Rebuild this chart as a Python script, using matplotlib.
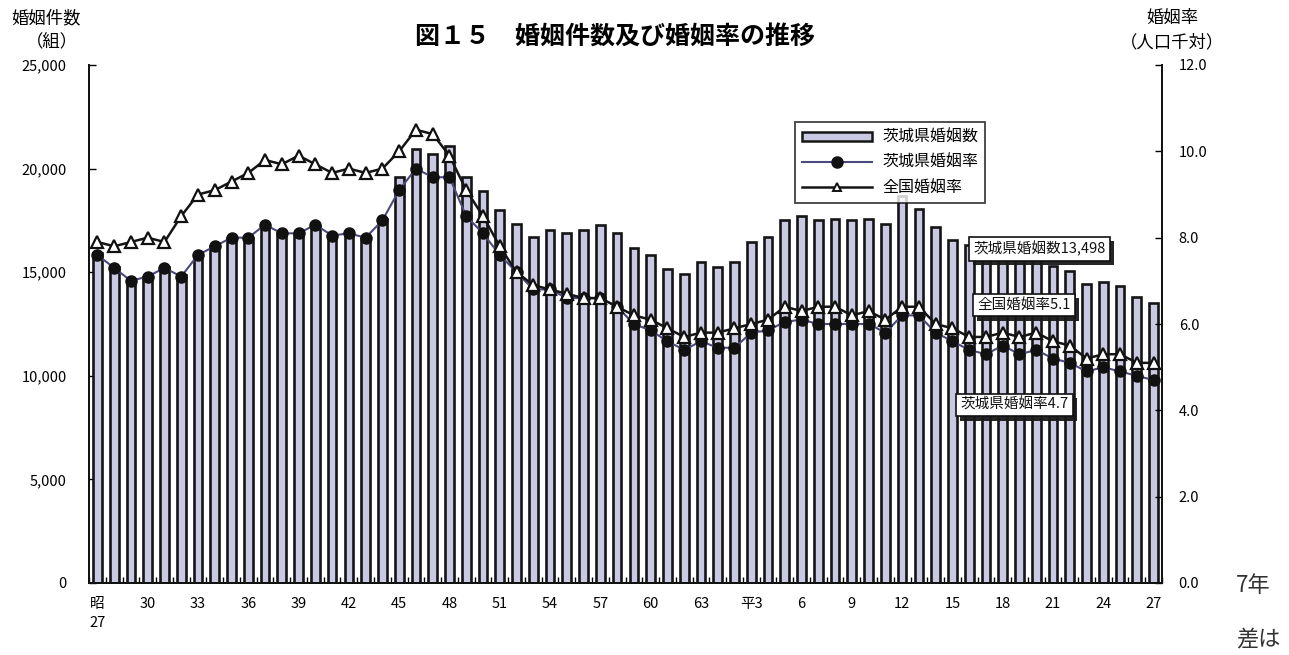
import matplotlib
matplotlib.use('Agg')
import matplotlib.pyplot as plt
from matplotlib.patches import Patch
from matplotlib.lines import Line2D
import matplotlib.patheffects as pe
import numpy as np

plt.rcParams['font.family'] = ['Noto Sans CJK JP', 'DejaVu Sans']

# 昭和27年(1952) ～ 平成27年(2015)
ibaraki_count = [15930, 15250, 14620, 14770, 15250, 14870, 15780, 16260, 16650, 16650,
                 17330, 16890, 16890, 17230, 16800, 16940, 16700, 17570, 19600, 20950,
                 20710, 21090, 19580, 18920, 18000, 17350, 16700, 17060, 16870, 17060,
                 17300, 16910, 16160, 15850, 15170, 14890, 15510, 15250, 15510, 16460,
                 16680, 17510, 17710, 17510, 17560, 17500, 17560, 17340, 18700, 18030,
                 17190, 16570, 16300, 16100, 16200, 15900, 16000, 15310, 15070, 14420,
                 14540, 14350, 13790, 13498]
ibaraki_rate = [7.6, 7.3, 7.0, 7.1, 7.3, 7.1, 7.6, 7.8, 8.0, 8.0,
                8.3, 8.1, 8.1, 8.3, 8.05, 8.1, 8.0, 8.4, 9.1, 9.6,
                9.4, 9.4, 8.5, 8.1, 7.6, 7.2, 6.8, 6.8, 6.6, 6.6,
                6.6, 6.4, 6.0, 5.85, 5.6, 5.4, 5.6, 5.45, 5.45, 5.8,
                5.85, 6.05, 6.1, 6.0, 6.0, 6.0, 6.0, 5.8, 6.2, 6.2,
                5.8, 5.6, 5.4, 5.3, 5.5, 5.3, 5.4, 5.2, 5.1, 4.9,
                5.0, 4.9, 4.8, 4.7]
national_rate = [7.9, 7.8, 7.9, 8.0, 7.9, 8.5, 9.0, 9.1, 9.3, 9.5,
                 9.8, 9.7, 9.9, 9.7, 9.5, 9.6, 9.5, 9.6, 10.0, 10.5,
                 10.4, 9.9, 9.1, 8.5, 7.8, 7.2, 6.9, 6.8, 6.7, 6.6,
                 6.6, 6.4, 6.2, 6.1, 5.9, 5.7, 5.8, 5.8, 5.9, 6.0,
                 6.1, 6.4, 6.3, 6.4, 6.4, 6.2, 6.3, 6.1, 6.4, 6.4,
                 6.0, 5.9, 5.7, 5.7, 5.8, 5.7, 5.8, 5.6, 5.5, 5.2,
                 5.3, 5.3, 5.1, 5.1]
xtick_labels = ['昭\n27', '30', '33', '36', '39', '42', '45', '48', '51', '54', '57', '60', '63',
                '平3', '6', '9', '12', '15', '18', '21', '24', '27']
left_ticks = [0, 5000, 10000, 15000, 20000, 25000]
right_ticks = [0.0, 2.0, 4.0, 6.0, 8.0, 10.0, 12.0]

W, H = 1289, 655
fig = plt.figure(figsize=(W / 100, H / 100), dpi=100)
ax = fig.add_axes([89 / W, 1 - 583 / H, (1162 - 89) / W, (583 - 65) / H])
ax2 = ax.twinx()

x = np.arange(len(ibaraki_count))
bar_fc = '#C9C9E3'
ax.bar(x, ibaraki_count, width=0.52, color=bar_fc, edgecolor='#151515', linewidth=1.9, zorder=2)
ax.set_xlim(-0.5, len(x) - 0.5)
ax.set_ylim(0, 25000)
ax.set_yticks(left_ticks)
ax.set_yticklabels([f'{v:,}' for v in left_ticks])
ax.tick_params(axis='y', direction='in', length=5, width=1, pad=16, labelsize=10.5)

xt = np.arange(0, len(x), 3)
ax.set_xticks(xt)
ax.set_xticklabels(xtick_labels)
ax.tick_params(axis='x', which='major', length=0, pad=10, labelsize=10.5)
for lab in ax.get_xticklabels():
    lab.set_linespacing(1.5)
ax.set_xticks(np.arange(-0.5, len(x), 1.0), minor=True)
ax.tick_params(axis='x', which='minor', direction='in', length=4, width=1)

ln1, = ax2.plot(x, ibaraki_rate, color='#4A4A7C', lw=1.5, marker='o', ms=8,
                mfc='#111111', mec='#111111', zorder=3)
ln2, = ax2.plot(x, national_rate, color='#151515', lw=1.8, marker='^', ms=8.5,
                mfc='white', mec='#111111', mew=1.6, zorder=4)
ax2.set_ylim(0, 12)
ax2.set_yticks(right_ticks)
ax2.set_yticklabels([f'{v:.1f}' for v in right_ticks])
ax2.tick_params(axis='y', direction='in', length=5, width=1, pad=12, labelsize=10.5)

for a in (ax, ax2):
    a.spines['top'].set_visible(False)
    for s in ('left', 'right', 'bottom'):
        a.spines[s].set_linewidth(1.3)
        a.spines[s].set_color('#111111')

handles = [Patch(facecolor=bar_fc, edgecolor='#151515', linewidth=1.8),
           Line2D([], [], color='#4A4A7C', lw=1.5, marker='o', ms=8, mfc='#111111', mec='#111111'),
           Line2D([], [], color='#151515', lw=1.8, marker='^', ms=6, mfc='white', mec='#111111', mew=1.4)]
leg = ax2.legend(handles, ['茨城県婚姻数', '茨城県婚姻率', '全国婚姻率'],
                 loc='upper left', bbox_to_anchor=(795 / W, 1 - 122 / H),
                 bbox_transform=fig.transFigure, fontsize=11.5, frameon=True,
                 fancybox=False, edgecolor='#111111', handlelength=4.4,
                 handleheight=0.5, borderpad=0.45, labelspacing=0.5, borderaxespad=0,
                 handletextpad=0.6)
leg.get_frame().set_linewidth(1.3)
leg.set_zorder(10)


def boxed(px, py, s):
    fx, fy = px / W, 1 - py / H
    t = fig.text(fx, fy, s, fontsize=10.5, va='center', ha='left', color='#111111',
                 bbox=dict(boxstyle='square,pad=0.3', fc='white', ec='#111111', lw=1.2), zorder=21)
    t.get_bbox_patch().set_path_effects([
        pe.SimplePatchShadow(offset=(3, -3), shadow_rgbFace='#1a1a1a', alpha=0.95),
        pe.Normal()])


boxed(973, 249, '茨城県婚姻数13,498')
boxed(977, 305, '全国婚姻率5.1')
boxed(960, 405, '茨城県婚姻率4.7')

fig.text(615 / W, 1 - 37 / H, '図１５　婚姻件数及び婚姻率の推移', fontsize=18, fontweight='bold',
         ha='center', va='center')
fig.text(46 / W, 1 - 18 / H, '婚姻件数', fontsize=12.5, ha='center', va='center')
fig.text(52 / W, 1 - 42 / H, '（組）', fontsize=12.5, ha='center', va='center')
fig.text(1172 / W, 1 - 18 / H, '婚姻率', fontsize=12.5, ha='center', va='center')
fig.text(1172 / W, 1 - 42 / H, '（人口千対）', fontsize=12.5, ha='center', va='center')

fig.text(1236 / W, 1 - 585 / H, '7年', fontsize=16, ha='left', va='center', color='#333333')
fig.text(1236 / W, 1 - 628 / H, '差は', fontsize=16, ha='left', va='top', color='#333333')

fig.savefig('out.png', dpi=100)
